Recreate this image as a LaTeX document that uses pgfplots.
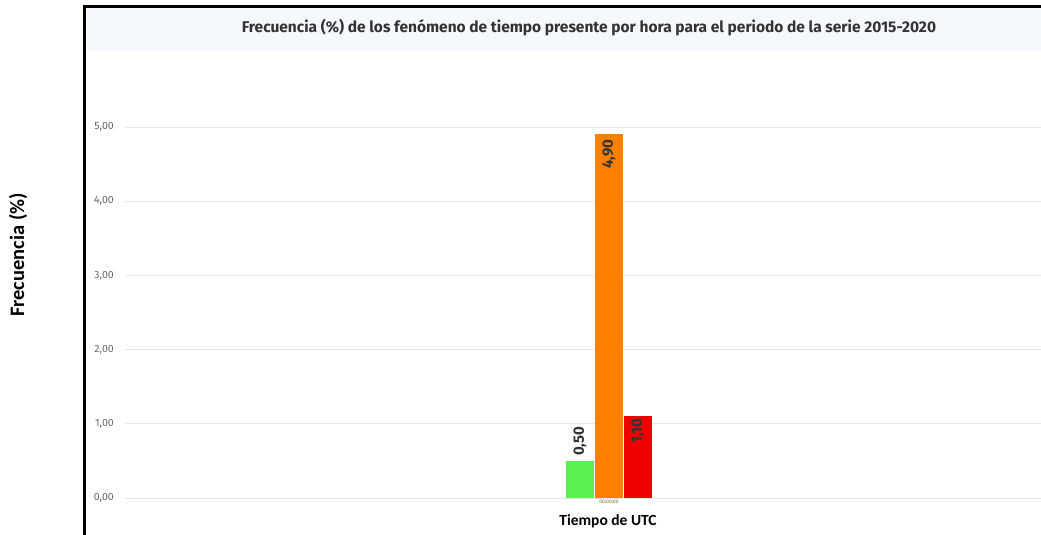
\documentclass[border=0pt]{standalone}
\usepackage{fontspec}
\setmainfont{Fira Sans}
\newfontfamily\calfont{Carlito}
\usepackage{pgfplots}
\pgfplotsset{compat=1.18}
\definecolor{gridc}{HTML}{E6E6E6}
\definecolor{titlebg}{HTML}{F5F9FD}
\definecolor{tickc}{HTML}{666666}
\definecolor{titlec}{HTML}{333333}
\definecolor{barG}{HTML}{5AF04F}
\definecolor{barO}{HTML}{FF8000}
\definecolor{barR}{HTML}{F00000}
\begin{document}
\begin{tikzpicture}[x=1pt,y=1pt]
\useasboundingbox (0,0) rectangle (1041,535);
\fill[titlebg] (86,485) rectangle (1041,527);
\node[text=titlec, font=\bfseries\fontsize{15.5}{17}\selectfont] at (589,507) {Frecuencia (\%) de los fenómeno de tiempo presente por hora para el periodo de la serie 2015-2020};
\begin{axis}[
  at={(125pt,37pt)}, anchor=south west,
  scale only axis, width=916pt, height=371pt,
  xmin=-484, xmax=432, ymin=0, ymax=5,
  ytick={0,1,2,3,4,5},
  xtick={0}, xticklabels={00:00:00},
  ymajorgrids, grid style={gridc, line width=0.8pt},
  axis line style={draw=none}, major tick length=0pt,
  /pgf/number format/assume math mode=true,
  yticklabel style={/pgf/number format/.cd, use comma, fixed, fixed zerofill, precision=2, /tikz/.cd, text=tickc, font=\fontsize{10.5}{12}\selectfont, inner sep=0pt, xshift=-11pt},
  xticklabel style={text=tickc, font=\fontsize{5}{6}\selectfont, inner sep=2pt},
  ybar=1pt, bar width=28pt,
  clip=false,
  every node near coord/.append style={/pgf/number format/.cd, use comma, fixed, fixed zerofill, precision=2, /tikz/.cd, rotate=90, font=\bfseries\fontsize{15}{17}\selectfont, text=titlec},
]
\addplot[fill=barG, draw=none, nodes near coords, every node near coord/.append style={anchor=west, inner sep=5pt}] coordinates {(0,0.50)};
\addplot[fill=barO, draw=none, nodes near coords, every node near coord/.append style={anchor=east, inner sep=5pt}] coordinates {(0,4.90)};
\addplot[fill=barR, draw=none, nodes near coords, every node near coord/.append style={anchor=east, inner sep=2pt}] coordinates {(0,1.10)};
\end{axis}
\draw[line width=3pt] (84.5,0) -- (84.5,528.5) -- (1041,528.5);
\node[rotate=90, font=\calfont\bfseries\fontsize{20.5}{23}\selectfont] at (18,280) {Frecuencia (\%)};
\node[font=\calfont\bfseries\fontsize{15.5}{17}\selectfont] at (608,14) {Tiempo de UTC};
\end{tikzpicture}
\end{document}
